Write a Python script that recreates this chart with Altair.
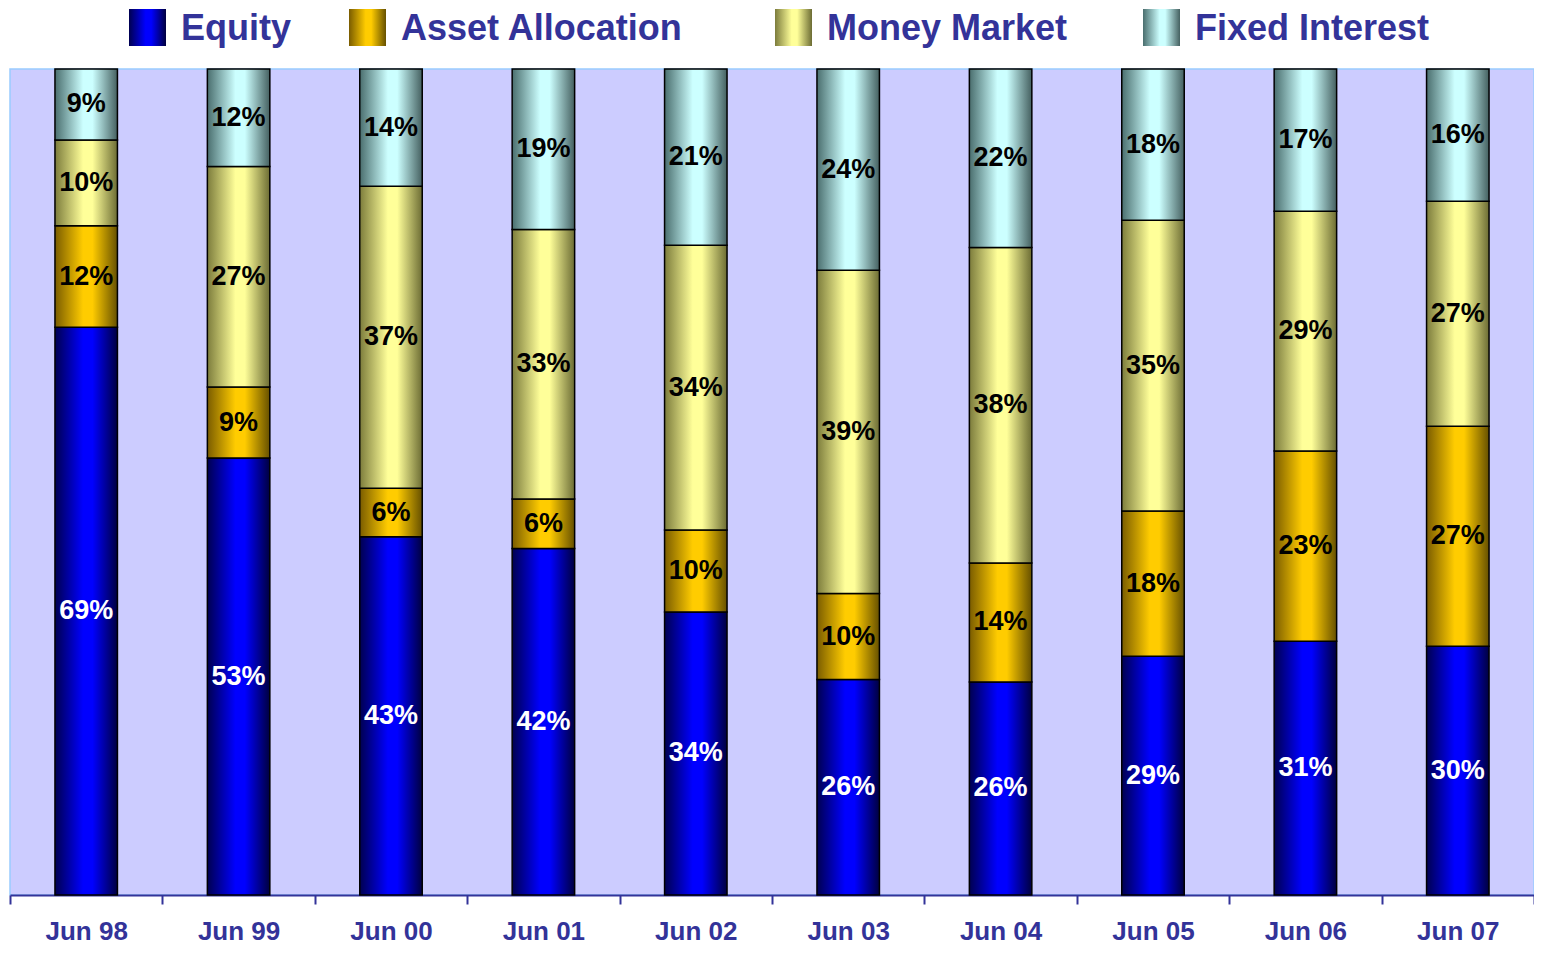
import altair as alt
import pandas as pd

periods = ["Jun 98", "Jun 99", "Jun 00", "Jun 01", "Jun 02",
           "Jun 03", "Jun 04", "Jun 05", "Jun 06", "Jun 07"]
series = ["Equity", "Asset Allocation", "Money Market", "Fixed Interest"]

equity = [68.8, 52.9, 43.4, 41.9, 34.2, 26.0, 25.8, 28.9, 30.7, 30.1]
asset_allocation = [12.3, 8.6, 5.9, 6.0, 9.9, 10.4, 14.4, 17.6, 23.0, 26.6]
money_market = [10.4, 26.7, 36.6, 32.6, 34.4, 39.0, 38.2, 35.2, 29.0, 27.2]
fixed_interest = [8.6, 11.8, 14.2, 19.4, 21.3, 24.3, 21.6, 18.3, 17.2, 16.0]

values = {
    "Equity": equity,
    "Asset Allocation": asset_allocation,
    "Money Market": money_market,
    "Fixed Interest": fixed_interest,
}

rows = []
for si, s in enumerate(series):
    for pi, p in enumerate(periods):
        rows.append({"period": p, "series": s, "order": si, "value": values[s][pi]})
df = pd.DataFrame(rows)


def grad(edge_l, mid, edge_r):
    return alt.LinearGradient(
        gradient="linear", x1=0, x2=1, y1=0, y2=0,
        stops=[
            alt.GradientStop(offset=0, color=edge_l),
            alt.GradientStop(offset=0.45, color=mid),
            alt.GradientStop(offset=0.6, color=mid),
            alt.GradientStop(offset=1, color=edge_r),
        ],
    )


gradients = {
    "Equity": grad("#000050", "#0000FF", "#000040"),
    "Asset Allocation": grad("#7A5C00", "#FFCC00", "#665000"),
    "Money Market": grad("#7C7C3C", "#FFFF99", "#6C6C34"),
    "Fixed Interest": grad("#4A6E6E", "#CCFFFF", "#456060"),
}

FONT = "Liberation Sans"
NAVY = "#333399"

x_enc = alt.X(
    "period:N", sort=periods,
    scale=alt.Scale(paddingInner=0, paddingOuter=0),
    axis=alt.Axis(
        title=None, labelAngle=0, labelFont=FONT, labelFontSize=26,
        labelFontWeight="bold", labelColor=NAVY, domainColor=NAVY,
        domainWidth=2, tickColor=NAVY, tickWidth=2, tickSize=9,
        tickBand="extent", labelPadding=14,
    ),
)
y_scale = alt.Scale(domain=[0, 1])

base = alt.Chart(df).transform_stack(
    stack="value", groupby=["period"], as_=["y0", "y1"],
    offset="normalize", sort=[alt.SortField("order", "ascending")],
).transform_calculate(
    mid="(datum.y0 + datum.y1) / 2",
    label="format(datum.value, '.0f') + '%'",
    tcolor="datum.series == 'Equity' ? 'white' : 'black'",
)

layers = []
for s in series:
    layers.append(
        base.transform_filter(alt.datum.series == s)
        .mark_bar(fill=gradients[s], stroke="black", strokeWidth=1.5,
                  width=alt.RelativeBandSize(0.41))
        .encode(x=x_enc,
                y=alt.Y("y0:Q", scale=y_scale, axis=None),
                y2="y1:Q")
    )

text = base.mark_text(font=FONT, fontSize=27, fontWeight="bold").encode(
    x=x_enc,
    y=alt.Y("mid:Q", scale=y_scale, axis=None),
    text="label:N",
    color=alt.Color("tcolor:N", scale=None),
)
layers.append(text)

# custom legend with gradient swatches
legend_x = {"Equity": 119, "Asset Allocation": 339,
            "Money Market": 765, "Fixed Interest": 1133}
for s in series:
    ld = alt.Chart(pd.DataFrame({"series": [s]}))
    x0 = legend_x[s]
    layers.append(
        ld.mark_rect(fill=gradients[s]).encode(
            x=alt.value(x0), x2=alt.value(x0 + 37),
            y=alt.value(-60), y2=alt.value(-23))
    )
    layers.append(
        ld.mark_text(font=FONT, fontSize=36, fontWeight="bold", color=NAVY,
                     align="left", baseline="middle").encode(
            x=alt.value(x0 + 52), y=alt.value(-40), text="series:N")
    )

chart = alt.layer(*layers).properties(
    width=1524, height=826,
    autosize=alt.AutoSizeParams(type="none"),
    padding={"left": 2, "top": 61, "right": 0, "bottom": 49},
    background="white",
).configure_view(
    fill="#CCCCFF", stroke="#99CCFF", strokeWidth=1.5,
)

chart.save("out.html", embed_options={"renderer": "svg", "actions": False})
